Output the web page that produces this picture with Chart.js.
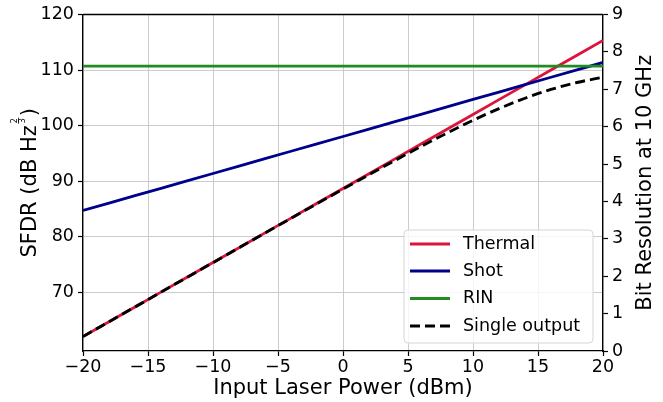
<!DOCTYPE html>
<html>
<head>
<meta charset="utf-8">
<script src="https://cdn.jsdelivr.net/npm/chart.js@4"></script>
<style>
  html, body { margin: 0; padding: 0; background: #ffffff; }
  #wrap { width: 663px; height: 402px; position: relative; }
</style>
</head>
<body>
<div id="wrap"><canvas id="c" width="663" height="402"></canvas></div>
<script>
// ---- data ----
const powerDbm = [-20, -18, -16, -14, -12, -10, -8, -6, -4, -2, 0, 2, 4, 6, 8, 10, 12, 14, 16, 18, 20];
const thermal = [62.00, 64.67, 67.33, 70.00, 72.67, 75.33, 78.00, 80.67, 83.33, 86.00, 88.67, 91.33, 94.00, 96.67, 99.33, 102.00, 104.67, 107.33, 110.00, 112.67, 115.33];
const shot = [84.70, 86.03, 87.37, 88.70, 90.03, 91.37, 92.70, 94.03, 95.37, 96.70, 98.03, 99.37, 100.70, 102.03, 103.37, 104.70, 106.03, 107.37, 108.70, 110.03, 111.37];
const rin = [110.7, 110.7, 110.7, 110.7, 110.7, 110.7, 110.7, 110.7, 110.7, 110.7, 110.7, 110.7, 110.7, 110.7, 110.7, 110.7, 110.7, 110.7, 110.7, 110.7, 110.7];
const singleOutput = [62.00, 64.67, 67.33, 70.00, 72.66, 75.32, 77.99, 80.64, 83.29, 85.93, 88.55, 91.15, 93.72, 96.23, 98.65, 100.94, 103.05, 104.92, 106.50, 107.75, 108.70];

const xTicks = [-20, -15, -10, -5, 0, 5, 10, 15, 20];
const leftTicks = [70, 80, 90, 100, 110, 120];
const rightTicks = [0, 1, 2, 3, 4, 5, 6, 7, 8, 9];

const seriesLabels = ['Thermal', 'Shot', 'RIN', 'Single output'];
const seriesColors = ['#DC143C', '#00008B', '#228B22', '#000000'];

const FONT = '"DejaVu Sans", "Liberation Sans", sans-serif';

function pts(arr) { return powerDbm.map((x, i) => ({ x: x, y: arr[i] })); }
function fmt(v) { return v < 0 ? '\u2212' + Math.abs(v) : String(v); }

const titlesAndLegend = {
  id: 'titlesAndLegend',
  afterDraw(chart) {
    const ctx = chart.ctx;
    const ca = chart.chartArea;
    ctx.save();
    // frame (top spine)
    ctx.strokeStyle = '#000';
    ctx.lineWidth = 1.3;
    ctx.beginPath();
    ctx.moveTo(ca.left, ca.top);
    ctx.lineTo(ca.right, ca.top);
    ctx.stroke();

    // x title
    ctx.fillStyle = '#000';
    ctx.font = '21px ' + FONT;
    ctx.textAlign = 'center';
    ctx.textBaseline = 'alphabetic';
    ctx.fillText('Input Laser Power (dBm)', (ca.left + ca.right) / 2, 394);

    // left title with fraction exponent
    const cy = (ca.top + ca.bottom) / 2;
    ctx.save();
    ctx.translate(36, cy);
    ctx.rotate(-Math.PI / 2);
    ctx.font = '21px ' + FONT;
    ctx.textAlign = 'left';
    const main = 'SFDR (dB Hz';
    const close = ')';
    const wMain = ctx.measureText(main).width;
    const wClose = ctx.measureText(close).width;
    const fracW = 8;
    const total = wMain + fracW + 1 + wClose;
    let x0 = -total / 2;
    ctx.fillText(main, x0, 0);
    const fx = x0 + wMain + fracW / 2 + 0.5;
    ctx.font = '8px ' + FONT;
    ctx.textAlign = 'center';
    ctx.fillText('2', fx, -19);
    ctx.fillText('3', fx, -11);
    ctx.lineWidth = 0.8;
    ctx.beginPath();
    ctx.moveTo(fx - 3, -17.5);
    ctx.lineTo(fx + 3, -17.5);
    ctx.stroke();
    ctx.font = '21px ' + FONT;
    ctx.textAlign = 'left';
    ctx.fillText(close, x0 + wMain + fracW + 1, 0);
    ctx.restore();

    // right title
    ctx.save();
    ctx.translate(651, cy);
    ctx.rotate(-Math.PI / 2);
    ctx.font = '21px ' + FONT;
    ctx.textAlign = 'center';
    ctx.fillText('Bit Resolution at 10 GHz', 0, 0);
    ctx.restore();

    // legend
    const lx = 404, ly = 230, lw = 189, lh = 113, r = 4;
    ctx.beginPath();
    ctx.moveTo(lx + r, ly);
    ctx.arcTo(lx + lw, ly, lx + lw, ly + lh, r);
    ctx.arcTo(lx + lw, ly + lh, lx, ly + lh, r);
    ctx.arcTo(lx, ly + lh, lx, ly, r);
    ctx.arcTo(lx, ly, lx + lw, ly, r);
    ctx.closePath();
    ctx.fillStyle = 'rgba(255,255,255,0.8)';
    ctx.fill();
    ctx.strokeStyle = '#d6d6d6';
    ctx.lineWidth = 1;
    ctx.stroke();

    const rows = [244, 271, 298.5, 326];
    chart.data.datasets.forEach((ds, i) => {
      const y = rows[i];
      ctx.strokeStyle = ds.borderColor;
      ctx.lineWidth = ds.borderWidth;
      ctx.setLineDash(ds.borderDash || []);
      ctx.beginPath();
      ctx.moveTo(410, y);
      ctx.lineTo(450, y);
      ctx.stroke();
      ctx.setLineDash([]);
      ctx.fillStyle = '#000';
      ctx.font = '17.5px ' + FONT;
      ctx.textAlign = 'left';
      ctx.textBaseline = 'middle';
      ctx.fillText(ds.label, 463, y);
    });
    ctx.restore();
  }
};

new Chart(document.getElementById('c'), {
  type: 'line',
  data: {
    datasets: [
      { label: seriesLabels[0], data: pts(thermal), borderColor: seriesColors[0], borderWidth: 2.8, pointRadius: 0, tension: 0, yAxisID: 'y', order: 4 },
      { label: seriesLabels[1], data: pts(shot), borderColor: seriesColors[1], borderWidth: 2.8, pointRadius: 0, tension: 0, yAxisID: 'y', order: 3 },
      { label: seriesLabels[2], data: pts(rin), borderColor: seriesColors[2], borderWidth: 2.8, pointRadius: 0, tension: 0, yAxisID: 'y', order: 2 },
      { label: seriesLabels[3], data: pts(singleOutput), borderColor: seriesColors[3], borderWidth: 2.9, borderDash: [10, 5], pointRadius: 0, cubicInterpolationMode: 'monotone', yAxisID: 'y', order: 1 }
    ]
  },
  options: {
    responsive: false,
    devicePixelRatio: 1,
    animation: false,
    layout: { padding: { top: 13, left: 0, right: 0, bottom: 0 } },
    plugins: { legend: { display: false }, tooltip: { enabled: false } },
    scales: {
      x: {
        type: 'linear', min: -20, max: 20,
        afterBuildTicks(axis) { axis.ticks = xTicks.map(v => ({ value: v })); },
        afterFit(axis) { axis.height = 51; },
        ticks: { color: '#000', font: { size: 17.5, family: FONT }, padding: 1, maxRotation: 0, callback: v => fmt(v) },
        grid: { color: '#cccccc', lineWidth: 1, tickLength: 5, tickColor: '#000', tickWidth: 1.2 },
        border: { display: true, color: '#000', width: 1.3 }
      },
      y: {
        type: 'linear', position: 'left', min: 59.4, max: 120,
        afterBuildTicks(axis) { axis.ticks = leftTicks.map(v => ({ value: v })); },
        afterFit(axis) { axis.width = 83; },
        ticks: { color: '#000', font: { size: 17.5, family: FONT }, padding: 4, callback: v => fmt(v) },
        grid: { color: '#cccccc', lineWidth: 1, tickLength: 5, tickColor: '#000', tickWidth: 1.2 },
        border: { display: true, color: '#000', width: 1.3 }
      },
      y2: {
        type: 'linear', position: 'right', min: 0, max: 9,
        afterBuildTicks(axis) { axis.ticks = rightTicks.map(v => ({ value: v })); },
        afterFit(axis) { axis.width = 60; },
        ticks: { color: '#000', font: { size: 17.5, family: FONT }, padding: 4, callback: v => fmt(v) },
        grid: { drawOnChartArea: false, tickLength: 5, tickColor: '#000', tickWidth: 1.2 },
        border: { display: true, color: '#000', width: 1.3 }
      }
    }
  },
  plugins: [titlesAndLegend]
});
</script>
</body>
</html>
